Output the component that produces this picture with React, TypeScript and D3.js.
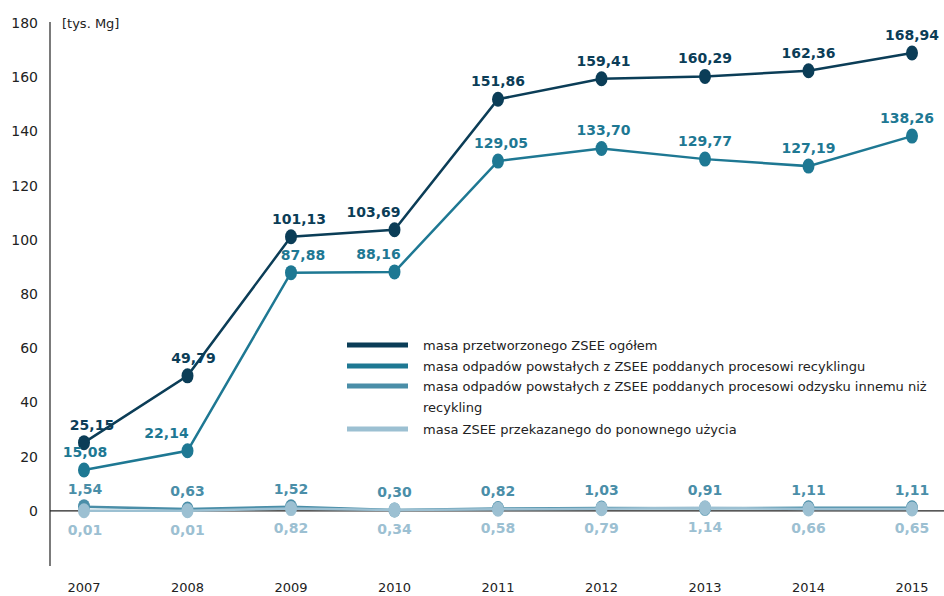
import React from "react";
import * as d3 from "d3";

const years = ["2007", "2008", "2009", "2010", "2011", "2012", "2013", "2014", "2015"];
const total = [25.15, 49.79, 101.13, 103.69, 151.86, 159.41, 160.29, 162.36, 168.94];
const recycling = [15.08, 22.14, 87.88, 88.16, 129.05, 133.7, 129.77, 127.19, 138.26];
const otherRecovery = [1.54, 0.63, 1.52, 0.3, 0.82, 1.03, 0.91, 1.11, 1.11];
const reuse = [0.01, 0.01, 0.82, 0.34, 0.58, 0.79, 1.14, 0.66, 0.65];
const yTicks = [0, 20, 40, 60, 80, 100, 120, 140, 160, 180];
const seriesNames = [
  "masa przetworzonego ZSEE ogółem",
  "masa odpadów powstałych z ZSEE poddanych procesowi recyklingu",
  "masa odpadów powstałych z ZSEE poddanych procesowi odzysku innemu niż|recykling",
  "masa ZSEE przekazanego do ponownego użycia",
];
const colors = ["#0b3d57", "#1e7893", "#4a8ea8", "#9cc0d2"];
const labelPos = ["above", "above", "above", "below"];
// horizontal label nudges (style only)
const labelDx = [
  [8, 6, 8, -21, 0, 2, 0, 0, 0],
  [1, -21, 12, -16, 3, 2, 0, 0, -5],
  [1, 0, 0, 0, 0, 0, 0, 0, 0],
  [1, 0, 0, 0, 0, 0, 0, 0, 0],
];

const W = 944;
const H = 596;
const font = "'DejaVu Sans', sans-serif";

export default function App() {
  const x = d3.scalePoint<string>().domain(years).range([84, 912]);
  const y = d3.scaleLinear().domain([-20, 180]).range([565, 23]);
  const data = [total, recycling, otherRecovery, reuse];
  const line = d3
    .line<number>()
    .x((_, i) => x(years[i]) as number)
    .y((d) => y(d));
  const fmt = (v: number) => v.toFixed(2).replace(".", ",");
  const legendY = [345, 366, 386, 429];

  return (
    <svg width={W} height={H} style={{ position: "absolute", left: 0, top: 0, background: "#fff" }} fontFamily={font}>
      {/* axes */}
      <line x1={50} x2={50} y1={y(180) - 1} y2={y(-20) + 1} stroke="#222" strokeWidth={1.2} />
      <line x1={50} x2={W} y1={y(0)} y2={y(0)} stroke="#222" strokeWidth={1.2} />
      {yTicks.map((t) => (
        <text key={t} x={38} y={y(t)} dy="0.35em" textAnchor="end" fontSize={14} fill="#222">
          {t}
        </text>
      ))}
      <text x={62} y={y(180)} dy="0.35em" fontSize={13} fill="#222">
        [tys. Mg]
      </text>
      {years.map((yr) => (
        <text key={yr} x={x(yr)} y={587} dy="0.35em" textAnchor="middle" fontSize={13} fill="#222">
          {yr}
        </text>
      ))}
      {/* series */}
      {data.map((s, si) => (
        <g key={si}>
          <path d={line(s) || ""} fill="none" stroke={colors[si]} strokeWidth={2.5} />
          {s.map((v, i) => (
            <ellipse key={i} cx={x(years[i])} cy={y(v)} rx={6} ry={7.5} fill={colors[si]} />
          ))}
        </g>
      ))}
      {data.map((s, si) => (
        <g key={"l" + si}>
          {s.map((v, i) => (
            <text
              key={i}
              x={(x(years[i]) as number) + labelDx[si][i]}
              y={labelPos[si] === "above" ? y(v) - 13 : y(v) + 24}
              textAnchor="middle"
              fontSize={14}
              fontWeight="bold"
              fill={colors[si]}
            >
              {fmt(v)}
            </text>
          ))}
        </g>
      ))}
      {/* legend */}
      {seriesNames.map((name, i) => {
        const lines = name.split("|");
        return (
          <g key={name}>
            <line x1={347} x2={408} y1={legendY[i]} y2={legendY[i]} stroke={colors[i]} strokeWidth={5} />
            {lines.map((ln, j) => (
              <text key={j} x={423} y={legendY[i] + j * 21.5} dy="0.35em" fontSize={13} fill="#222">
                {ln}
              </text>
            ))}
          </g>
        );
      })}
    </svg>
  );
}
